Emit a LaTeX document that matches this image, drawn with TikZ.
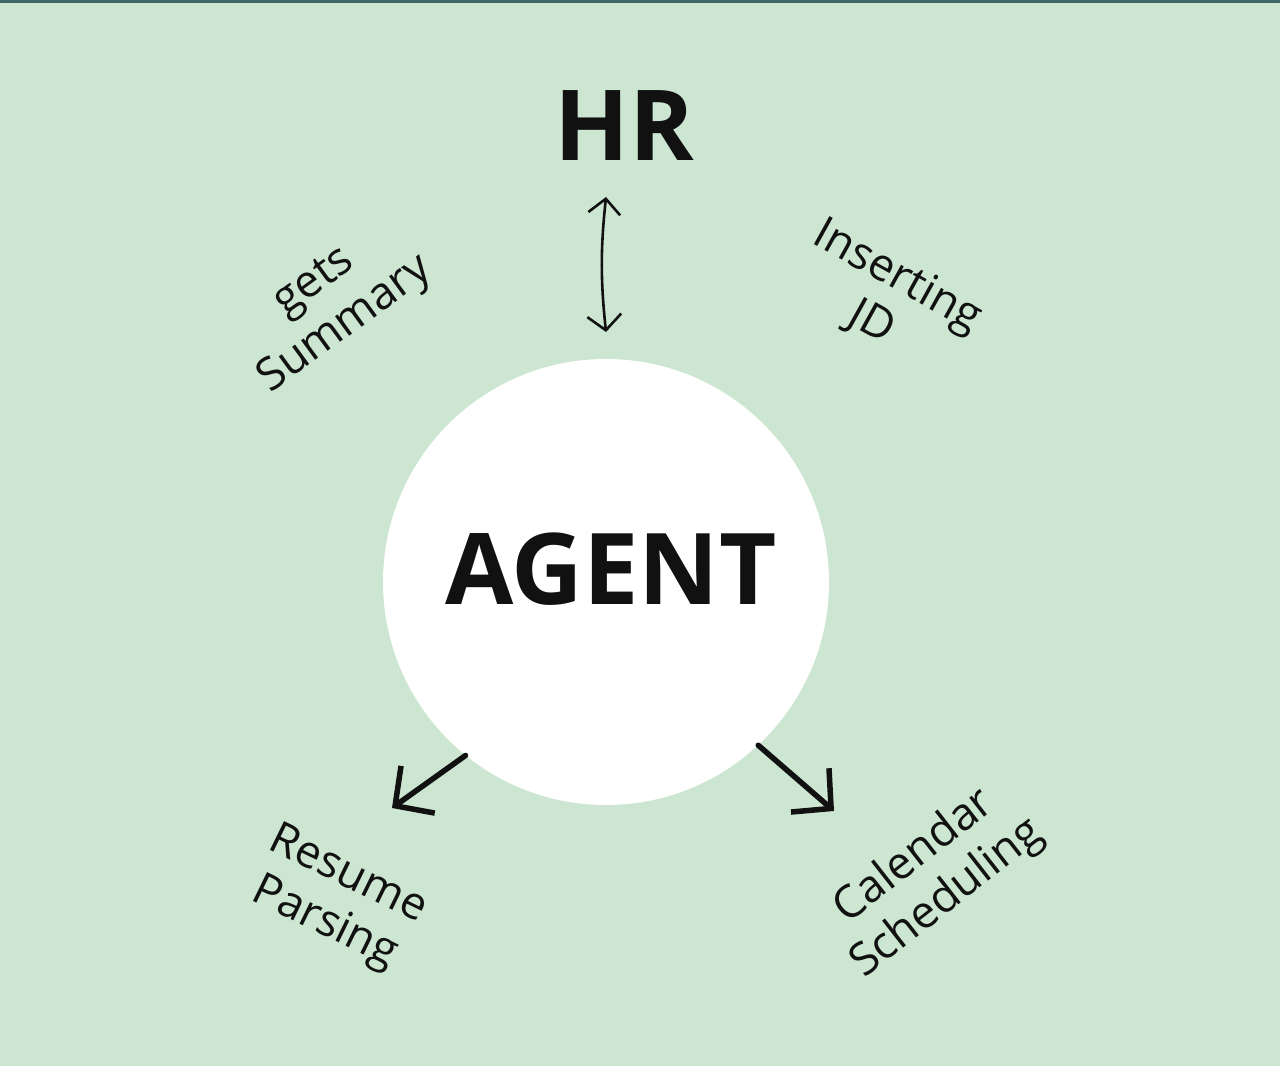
\documentclass[tikz,border=0pt]{standalone}
\usepackage{fontspec}
\setmainfont{Open Sans}
\usetikzlibrary{arrows.meta}
\definecolor{bggreen}{RGB}{204,230,209}
\definecolor{topline}{RGB}{62,104,104}
\definecolor{ink}{RGB}{17,17,17}
\tikzset{
  lbl/.style={text=ink, align=center, inner sep=0pt, font=\fontsize{45}{53}\selectfont},
  bigword/.style={text=ink, inner sep=0pt, font=\bfseries\fontsize{99}{110}\selectfont},
  thinarrow/.style={draw=ink, line width=2.6pt, line cap=round, line join=round,
    {Straight Barb[length=15pt,width=32pt,line width=2.6pt]}-{Straight Barb[length=15pt,width=34pt,line width=2.6pt]}},
  thickarrow/.style={draw=ink, line width=5.5pt, line cap=round, line join=round,
    -{Straight Barb[length=28pt,width=58pt,line width=5.5pt]}}
}
\begin{document}
\begin{tikzpicture}[x=1pt,y=1pt]
  \fill[bggreen] (0,0) rectangle (1280,1066);
  \fill[topline] (0,1063) rectangle (1280,1066);
  \useasboundingbox (0,0) rectangle (1280,1066);

  \node[circle, fill=white, minimum size=446pt, inner sep=0pt] (agent) at (606,484) {};
  \node[bigword] (agenttext) at (611,497) {AGENT};
  \node[bigword, font=\bfseries\fontsize{98}{110}\selectfont] (hr) at (624,940) {HR};

  \coordinate (hrend) at (606,869);
  \coordinate (agentend) at (606,734);
  \draw[thinarrow] (hrend) to[bend right=6] (agentend);

  \coordinate (resumeend) at (392,258);
  \coordinate (calendarend) at (834,255);
  \draw[thickarrow] (agent.-129) -- (resumeend);
  \draw[thickarrow] (agent.-47) -- (calendarend);

  \node[lbl, rotate=36] (summary) at (331,761) {gets\\Summary};
  \node[lbl, rotate=-29] (jd) at (884,766) {Inserting\\JD};
  \node[lbl, rotate=-26] (resume) at (336,166) {Resume\\Parsing};
  \node[lbl, rotate=38] (calendar) at (931,188) {Calendar\\Scheduling};
\end{tikzpicture}
\end{document}
